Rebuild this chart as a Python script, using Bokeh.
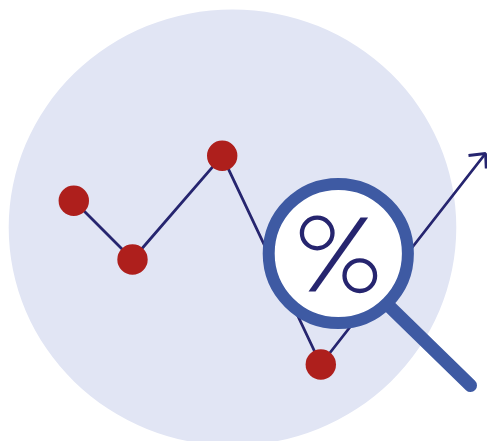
from bokeh.plotting import figure
from bokeh.embed import file_html
from bokeh.resources import INLINE

# Picture coordinates (y grows downward)
disc_x, disc_y, disc_w, disc_h = 232, 227, 447.6, 436
line_x = [73.3, 132, 221.7, 320.3, 485]
line_y = [200.3, 259, 155.3, 364, 153]
dot_x = [73.3, 132, 221.7, 320.3]
dot_y = [200.3, 259, 155.3, 364]
arrow_x = [468, 485, 485.7]
arrow_y = [155, 153, 168]
lens_x, lens_y, lens_r = 337.8, 253, 69.6
handle_x = [390, 470]
handle_y = [307, 385]
slash_x = [360, 367.6, 315, 308]
slash_y = [217, 217, 291, 291]
pct_x = [316.7, 359.3]
pct_y = [232.5, 275.2]
pct_r = 15.3

p = figure(width=487, height=441, x_range=(0, 487), y_range=(441, 0),
           output_backend="svg", toolbar_location=None, min_border=0,
           outline_line_color=None, background_fill_color="white",
           border_fill_color="white")
p.axis.visible = False
p.grid.visible = False

p.ellipse(disc_x, disc_y, width=disc_w, height=disc_h, fill_color="#e1e5f4", line_color=None)
p.line(line_x, line_y, line_color="#26256f", line_width=2.8)
p.line(arrow_x, arrow_y, line_color="#26256f", line_width=2.8)
p.circle(dot_x, dot_y, radius=15.2, fill_color="#ae1f1c", line_color=None)
p.line(handle_x, handle_y, line_color="#3e5aa3", line_width=13, line_cap="round")
p.circle(lens_x, lens_y, radius=lens_r, fill_color="white", line_color="#3e5aa3", line_width=12)
p.patch(slash_x, slash_y, fill_color="#26256f", line_color=None)
p.circle(pct_x, pct_y, radius=pct_r, fill_color=None, line_color="#26256f", line_width=4.3)

open("out.html", "w").write(file_html(p, INLINE))
